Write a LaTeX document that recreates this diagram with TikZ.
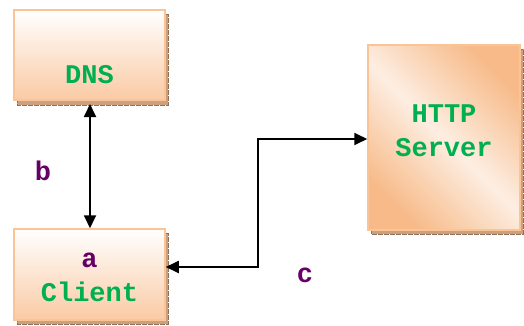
\documentclass[tikz,border=0pt]{standalone}
\usepackage{fontspec}
\setmonofont{Liberation Mono}
\usetikzlibrary{arrows.meta,calc}
\definecolor{tgreen}{RGB}{0,176,80}
\definecolor{tpurple}{RGB}{102,0,102}
\definecolor{peach}{RGB}{250,202,164}
\definecolor{peachdark}{RGB}{247,186,136}
\definecolor{peachlight}{RGB}{253,238,226}
\definecolor{boxline}{RGB}{250,196,150}
\definecolor{shadowc}{RGB}{205,160,125}
\tikzset{
  x=1pt,y=-1pt,
  box/.style={draw=boxline,line width=1.5pt,inner sep=0pt,rectangle},
  vbox/.style={box,top color=white,bottom color=peach},
  dbox/.style={box,shading=axis,top color=peachdark,bottom color=peachdark,middle color=peachlight,shading angle=-45},
  boxshadow/.style={fill=shadowc,draw=shadowc!70!black,line width=0.4pt,dash pattern=on 5pt off 1pt},
  lbl/.style={font=\ttfamily\bfseries\fontsize{27}{34}\selectfont,inner sep=0pt,align=center},
  conn/.style={line width=1.8pt,black},
  tips/.style={{Triangle[length=13pt,width=12pt]}-{Triangle[length=13pt,width=12pt]}}
}
\begin{document}
\begin{tikzpicture}
\useasboundingbox (0,0) rectangle (524,326);
% shadows
\fill[boxshadow] (17,14) rectangle (168,105);
\fill[boxshadow] (17,233) rectangle (168,324);
\fill[boxshadow] (371,49) rectangle (523,234);
% boxes
\node[vbox,minimum width=151pt,minimum height=90pt] (dns) at (89.5,55) {};
\node[vbox,minimum width=151pt,minimum height=91pt] (client) at (89.5,274.5) {};
\node[dbox,minimum width=152pt,minimum height=185pt] (http) at (444,137.5) {};
% texts
\node[lbl,text=tgreen,anchor=base] (dnst) at (89.5,84) {DNS};
\node[lbl,text=tgreen,anchor=base] (clientt) at (89.5,301) {\textcolor{tpurple}{a}\\Client};
\node[lbl,text=tgreen,anchor=base] (httpt) at (444,156) {HTTP\\Server};
\node[lbl,text=tpurple,anchor=base] (b) at (43,180) {b};
\node[lbl,text=tpurple,anchor=base] (c) at (305,282) {c};
% connectors
\coordinate (dnsb) at (90,104);
\draw[conn,tips] (dnsb) -- (dnsb |- client.north);
\coordinate (cbend) at (258,267);
\draw[conn,tips] (client.east |- cbend) -- (cbend) |- (http.west |- 0,139);
\end{tikzpicture}
\end{document}
